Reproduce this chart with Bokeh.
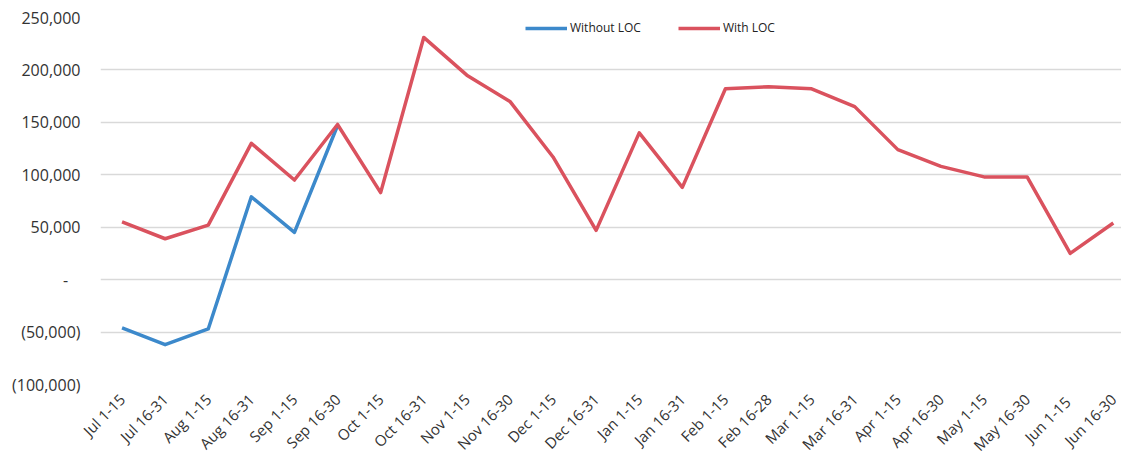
import math
from bokeh.plotting import figure
from bokeh.models import Range1d, FixedTicker, CustomJSTickFormatter, Legend, LegendItem
from bokeh.embed import file_html
from bokeh.resources import INLINE

periods = ["Jul 1-15", "Jul 16-31", "Aug 1-15", "Aug 16-31", "Sep 1-15", "Sep 16-30",
           "Oct 1-15", "Oct 16-31", "Nov 1-15", "Nov 16-30", "Dec 1-15", "Dec 16-31",
           "Jan 1-15", "Jan 16-31", "Feb 1-15", "Feb 16-28", "Mar 1-15", "Mar 16-31",
           "Apr 1-15", "Apr 16-30", "May 1-15", "May 16-30", "Jun  1-15", "Jun 16-30"]

with_loc = [55000, 39000, 52000, 130000, 95000, 148000,
            83000, 231000, 195000, 170000, 117000, 47000,
            140000, 88000, 182000, 184000, 182000, 165000,
            124000, 108000, 98000, 98000, 25000, 54000]

without_loc = [-46000, -62000, -47000, 79000, 45000, 147000]

y_ticks = [-100000, -50000, 0, 50000, 100000, 150000, 200000, 250000]

FONT = "Open Sans"
TXT = "#333333"

x_all = list(range(len(periods)))

p = figure(width=1121, height=464, output_backend="svg", toolbar_location=None,
           x_range=Range1d(-0.5, 23.19), y_range=Range1d(-100000, 250000),
           min_border_left=100, min_border_right=0, min_border_top=17, min_border_bottom=79)
p.outline_line_color = None
p.background_fill_color = "white"
p.border_fill_color = "white"

# axes
p.xaxis.ticker = FixedTicker(ticks=x_all)
p.xaxis.major_label_overrides = {i: lab for i, lab in enumerate(periods)}
p.xaxis.major_label_orientation = math.pi / 4
p.xaxis.axis_line_color = None
p.xaxis.major_tick_line_color = None
p.xaxis.minor_tick_line_color = None
p.xaxis.major_label_text_font = FONT
p.xaxis.major_label_text_font_size = "15px"
p.xaxis.major_label_text_color = TXT
p.xaxis.major_label_standoff = 6

p.yaxis.ticker = FixedTicker(ticks=y_ticks)
p.yaxis.formatter = CustomJSTickFormatter(code="""
    if (tick == 0) { return "-\u00a0\u00a0\u00a0"; }
    const s = Math.abs(tick).toLocaleString('en-US');
    return tick < 0 ? "(" + s + ")" : s;
""")
p.yaxis.axis_line_color = None
p.yaxis.major_tick_line_color = None
p.yaxis.minor_tick_line_color = None
p.yaxis.major_label_text_font = FONT
p.yaxis.major_label_text_font_size = "16px"
p.yaxis.major_label_text_color = TXT
p.yaxis.major_label_standoff = 14

p.xgrid.grid_line_color = None
p.ygrid.ticker = FixedTicker(ticks=y_ticks)
p.ygrid.grid_line_color = "#d9d9d9"
p.ygrid.grid_line_width = 1.5

BLUE = "#3c89cb"
RED = "#da525e"

r_blue = p.line(x_all[:len(without_loc)], without_loc, line_color=BLUE, line_width=3.5,
                line_join="round")
r_red = p.line(x_all, with_loc, line_color=RED, line_width=3.5, line_join="round")

legend = Legend(items=[LegendItem(label="Without LOC", renderers=[r_blue]),
                       LegendItem(label="With LOC", renderers=[r_red])],
                orientation="horizontal", location=(425, 348))
legend.background_fill_alpha = 0
legend.border_line_color = None
legend.label_text_font = FONT
legend.label_text_font_size = "12px"
legend.label_text_color = "#222222"
legend.glyph_width = 42
legend.glyph_height = 16
legend.label_height = 16
legend.label_standoff = 3
legend.spacing = 37
legend.padding = 0
legend.margin = 0
p.add_layout(legend, "center")

open("out.html", "w").write(file_html(p, INLINE))
